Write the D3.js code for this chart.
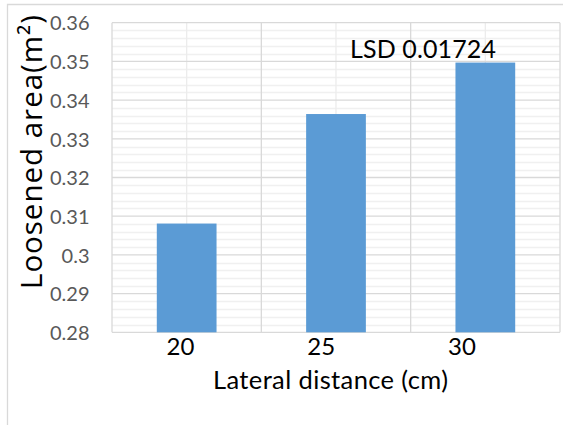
<!DOCTYPE html>
<html><head><meta charset="utf-8">
<script src="https://cdn.jsdelivr.net/npm/d3@7"></script>
<style>body{margin:0;background:#fff}svg{display:block}</style>
</head><body>
<script>
const categories = ["20", "25", "30"];
const values = [0.3081, 0.3364, 0.3497];
const yTicks = [0.28, 0.29, 0.30, 0.31, 0.32, 0.33, 0.34, 0.35, 0.36];
const yTickLabels = ["0.28", "0.29", "0.3", "0.31", "0.32", "0.33", "0.34", "0.35", "0.36"];
const xTitle = "Lateral distance (cm)";
const yTitle = "Loosened area(m²)";
const annotation = "LSD 0.01724";

const W = 566, H = 425;
const svg = d3.select("body").append("svg").attr("width", W).attr("height", H)
  .style("font-family", "Lato, 'Open Sans', sans-serif");

// chart border (left + top only visible)
svg.append("path").attr("d", "M7.5,430 V4.5 H563").attr("fill", "none").attr("stroke", "#d9d9d9").attr("stroke-width", 1.3);

const x = d3.scaleBand().domain(categories).range([112, 560]).paddingInner(0.6).paddingOuter(0.3);
const y = d3.scaleLinear().domain([0.28, 0.36]).range([332.3, 22.7]);

const g = svg.append("g");
// minor horizontal gridlines
const minor = d3.range(0.28, 0.3601, 0.002).filter(v => Math.abs(Math.round(v * 100) - v * 100) > 1e-6);
g.selectAll("line.minor").data(minor).join("line")
  .attr("x1", 112).attr("x2", 560).attr("y1", d => Math.round(y(d)) + 0.5).attr("y2", d => Math.round(y(d)) + 0.5)
  .attr("stroke", "#f0f0f0").attr("stroke-width", 1.3);
// vertical gridlines at category boundaries and centers
const step = x.step();
const vx = d3.range(0, 7).map(i => 112 + i * step / 2);
g.selectAll("line.v").data(vx).join("line")
  .attr("x1", d => d).attr("x2", d => d).attr("y1", y(0.36)).attr("y2", y(0.28))
  .attr("stroke", (d, i) => i % 2 === 0 ? "#d9d9d9" : "#ececec").attr("stroke-width", 1.3);
// major horizontal gridlines
g.selectAll("line.major").data(yTicks).join("line")
  .attr("x1", 112).attr("x2", 560).attr("y1", d => y(d)).attr("y2", d => y(d))
  .attr("stroke", "#d9d9d9").attr("stroke-width", 1.3);

// bars
g.selectAll("rect.bar").data(values).join("rect")
  .attr("x", (d, i) => x(categories[i])).attr("width", x.bandwidth())
  .attr("y", d => y(d)).attr("height", d => y(0.28) - y(d))
  .attr("fill", "#5b9bd5");

// y tick labels
const yAxis = d3.axisLeft(y).tickValues(yTicks).tickFormat((d, i) => yTickLabels[i]).tickSize(0).tickPadding(0);
const ya = svg.append("g").attr("transform", "translate(89.5,0)").call(yAxis);
ya.select(".domain").remove();
ya.attr("font-family", null).attr("font-size", null);
ya.selectAll("text").style("font-size", "20px").style("font-family", "Lato").attr("fill", "#595959").attr("dy", "0.36em");

// x tick labels (as drawn in reference, slightly left of bar centers)
const xl = d3.scalePoint().domain(categories).range([180, 461.5]);
const xAxis = d3.axisBottom(xl).tickSize(0).tickPadding(0);
const xa = svg.append("g").attr("transform", "translate(0,332)").call(xAxis);
xa.select(".domain").remove();
xa.selectAll("text").style("font-size", "24px").style("font-family", "Lato").attr("fill", "#000").attr("dy", null).attr("y", 23);

// x title
svg.append("text").attr("x", 330.5).attr("y", 389.3).attr("text-anchor", "middle")
  .style("font-size", "25.5px").style("font-family", "Lato").attr("fill", "#000")
  .attr("textLength", 235).attr("lengthAdjust", "spacing").text(xTitle);
// y title
svg.append("text").attr("transform", "translate(41.5,152) rotate(-90)").attr("text-anchor", "middle")
  .style("font-size", "29.5px").style("font-family", "'Open Sans'").attr("fill", "#000")
  .attr("textLength", 274).attr("lengthAdjust", "spacing").text(yTitle);
// annotation
svg.append("text").attr("x", 350).attr("y", 58.3)
  .style("font-size", "25px").style("font-family", "Lato")
  .attr("textLength", 146).attr("lengthAdjust", "spacing").attr("fill", "#000").text(annotation);
</script>
</body></html>
